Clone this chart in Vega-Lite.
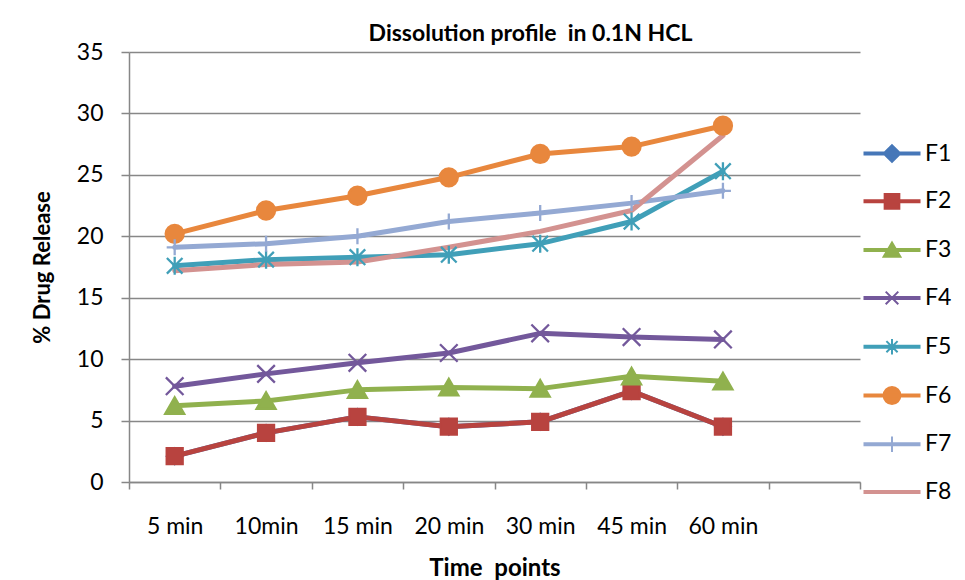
{
  "$schema": "https://vega.github.io/schema/vega-lite/v6.json",
  "width": 731,
  "height": 430,
  "autosize": {"type": "none"},
  "padding": {"left": 129, "top": 52, "right": 105, "bottom": 98},
  "background": "white",
  "config": {"view": {"stroke": null}, "font": "Lato"},
  "title": {
    "text": "Dissolution profile\u00a0 in 0.1N HCL",
    "font": "Lato",
    "fontSize": 23,
    "fontWeight": "bold",
    "color": "black",
    "anchor": "middle",
    "offset": -5,
    "dx": 36
  },
  "data": {
    "values": [
      {"t": "5 min", "s": "F1", "v": 2.1}, {"t": "10min", "s": "F1", "v": 4.0}, {"t": "15 min", "s": "F1", "v": 5.3}, {"t": "20 min", "s": "F1", "v": 4.5}, {"t": "30 min", "s": "F1", "v": 4.9}, {"t": "45 min", "s": "F1", "v": 7.4}, {"t": "60 min", "s": "F1", "v": 4.5},
      {"t": "5 min", "s": "F2", "v": 2.1}, {"t": "10min", "s": "F2", "v": 4.0}, {"t": "15 min", "s": "F2", "v": 5.3}, {"t": "20 min", "s": "F2", "v": 4.5}, {"t": "30 min", "s": "F2", "v": 4.9}, {"t": "45 min", "s": "F2", "v": 7.4}, {"t": "60 min", "s": "F2", "v": 4.5},
      {"t": "5 min", "s": "F3", "v": 6.2}, {"t": "10min", "s": "F3", "v": 6.6}, {"t": "15 min", "s": "F3", "v": 7.5}, {"t": "20 min", "s": "F3", "v": 7.7}, {"t": "30 min", "s": "F3", "v": 7.6}, {"t": "45 min", "s": "F3", "v": 8.6}, {"t": "60 min", "s": "F3", "v": 8.2},
      {"t": "5 min", "s": "F4", "v": 7.8}, {"t": "10min", "s": "F4", "v": 8.8}, {"t": "15 min", "s": "F4", "v": 9.7}, {"t": "20 min", "s": "F4", "v": 10.5}, {"t": "30 min", "s": "F4", "v": 12.1}, {"t": "45 min", "s": "F4", "v": 11.8}, {"t": "60 min", "s": "F4", "v": 11.6},
      {"t": "5 min", "s": "F5", "v": 17.6}, {"t": "10min", "s": "F5", "v": 18.1}, {"t": "15 min", "s": "F5", "v": 18.3}, {"t": "20 min", "s": "F5", "v": 18.5}, {"t": "30 min", "s": "F5", "v": 19.4}, {"t": "45 min", "s": "F5", "v": 21.2}, {"t": "60 min", "s": "F5", "v": 25.3},
      {"t": "5 min", "s": "F6", "v": 20.2}, {"t": "10min", "s": "F6", "v": 22.1}, {"t": "15 min", "s": "F6", "v": 23.3}, {"t": "20 min", "s": "F6", "v": 24.8}, {"t": "30 min", "s": "F6", "v": 26.7}, {"t": "45 min", "s": "F6", "v": 27.3}, {"t": "60 min", "s": "F6", "v": 29.0},
      {"t": "5 min", "s": "F7", "v": 19.1}, {"t": "10min", "s": "F7", "v": 19.4}, {"t": "15 min", "s": "F7", "v": 20.0}, {"t": "20 min", "s": "F7", "v": 21.2}, {"t": "30 min", "s": "F7", "v": 21.9}, {"t": "45 min", "s": "F7", "v": 22.7}, {"t": "60 min", "s": "F7", "v": 23.7},
      {"t": "5 min", "s": "F8", "v": 17.2}, {"t": "10min", "s": "F8", "v": 17.7}, {"t": "15 min", "s": "F8", "v": 17.9}, {"t": "20 min", "s": "F8", "v": 19.1}, {"t": "30 min", "s": "F8", "v": 20.4}, {"t": "45 min", "s": "F8", "v": 22.1}, {"t": "60 min", "s": "F8", "v": 28.2}
    ]
  },
  "encoding": {
    "x": {
      "field": "t",
      "type": "ordinal",
      "bandPosition": 0.5,
      "scale": {
        "type": "band",
        "domain": ["5 min", "10min", "15 min", "20 min", "30 min", "45 min", "60 min", " "],
        "paddingInner": 0,
        "paddingOuter": 0
      },
      "axis": {
        "title": "Time\u00a0 points",
        "tickBand": "extent",
        "labelAngle": 0,
        "grid": false,
        "domainColor": "#878787",
        "domainWidth": 1.5,
        "tickColor": "#878787",
        "tickWidth": 1.5,
        "tickSize": 7,
        "labelFont": "Lato",
        "labelFontSize": 23,
        "labelColor": "black",
        "labelPadding": 26,
        "titleFont": "Lato",
        "titleFontSize": 24,
        "titleFontWeight": "bold",
        "titleColor": "black",
        "titlePadding": 18
      }
    },
    "y": {
      "field": "v",
      "type": "quantitative",
      "scale": {"domain": [0, 35]},
      "axis": {
        "title": "% Drug Release",
        "values": [0, 5, 10, 15, 20, 25, 30, 35],
        "grid": true,
        "gridColor": "#878787",
        "gridWidth": 1.5,
        "domainColor": "#878787",
        "domainWidth": 1.5,
        "tickColor": "#878787",
        "tickWidth": 1.5,
        "tickSize": 8,
        "labelFont": "Lato",
        "labelFontSize": 23,
        "labelColor": "black",
        "labelPadding": 18,
        "titleFont": "Lato",
        "titleFontSize": 22,
        "titleFontWeight": "bold",
        "titleColor": "black",
        "titlePadding": 22
      }
    }
  },
  "resolve": {"scale": {"shape": "independent", "color": "independent", "stroke": "independent"}},
  "layer": [
    {
      "mark": {"type": "line", "strokeWidth": 5, "strokeJoin": "round", "strokeCap": "round"},
      "encoding": {
        "color": {
          "field": "s",
          "type": "nominal",
          "legend": null,
          "scale": {
            "domain": ["F1", "F2", "F3", "F4", "F5", "F6", "F7", "F8"],
            "range": ["#4677B8", "#B8433F", "#90B14E", "#73589B", "#409FB8", "#E8873D", "#94A9D3", "#D39290"]
          }
        }
      }
    },
    {
      "transform": [{"filter": "false"}],
      "mark": {"type": "point", "filled": true, "opacity": 1, "strokeWidth": 2},
      "encoding": {
        "color": {
          "field": "s",
          "type": "nominal",
          "scale": {
            "domain": ["F1", "F2", "F3", "F4", "F5", "F6", "F7", "F8"],
            "range": ["#4677B8", "#B8433F", "#90B14E", "#73589B", "#409FB8", "#E8873D", "#94A9D3", "#D39290"]
          },
          "legend": {
            "orient": "none",
            "legendX": 751.5,
            "legendY": 90,
            "title": null,
            "padding": 0,
            "labelFont": "Lato",
            "labelFontSize": 23,
            "labelColor": "black",
            "labelOffset": 21.5,
            "rowPadding": 23.8,
            "symbolSize": 196,
            "symbolStrokeWidth": 2,
            "symbolOpacity": 1
          }
        },
        "shape": {
          "field": "s",
          "type": "nominal",
          "scale": {
            "domain": ["F1", "F2", "F3", "F4", "F5", "F6", "F7", "F8"],
            "range": [
              "M-3.93,-0.14H3.93V0.14H-3.93ZM0,-1.2L1.2,0L0,1.2L-1.2,0Z",
              "M-3.93,-0.14H3.93V0.14H-3.93ZM-1.05,-1.05H1.05V1.05H-1.05Z",
              "M-3.93,-0.14H3.93V0.14H-3.93ZM0,-1.1L1.2,0.95H-1.2Z",
              "M-3.93,-0.14H3.93V0.14H-3.93ZM-0.9,-0.9L0.9,0.9M-0.9,0.9L0.9,-0.9",
              "M-3.93,-0.14H3.93V0.14H-3.93ZM-0.8,-0.8L0.8,0.8M-0.8,0.8L0.8,-0.8M0,-1.1V1.1",
              "M-3.93,-0.14H3.93V0.14H-3.93ZM-1.2,0A1.2,1.2,0,1,1,1.2,0A1.2,1.2,0,1,1,-1.2,0Z",
              "M-3.93,-0.14H3.93V0.14H-3.93ZM0,-1.1V1.1",
              "M-3.93,-0.14H3.93V0.14H-3.93Z"
            ]
          },
          "legend": {
            "orient": "none",
            "legendX": 751.5,
            "legendY": 90,
            "title": null,
            "padding": 0,
            "labelFont": "Lato",
            "labelFontSize": 23,
            "labelColor": "black",
            "labelOffset": 21.5,
            "rowPadding": 23.8,
            "symbolSize": 196,
            "symbolStrokeWidth": 2,
            "symbolOpacity": 1
          }
        },
        "stroke": {
          "field": "s",
          "type": "nominal",
          "legend": null,
          "scale": {
            "domain": ["F1", "F2", "F3", "F4", "F5", "F6", "F7", "F8"],
            "range": ["#4677B8", "#B8433F", "#90B14E", "#73589B", "#409FB8", "#E8873D", "#94A9D3", "#D39290"]
          }
        }
      }
    },
    {
      "mark": {"type": "point", "filled": true, "opacity": 1, "size": 400, "strokeWidth": 2.3},
      "encoding": {
        "color": {
          "field": "s",
          "type": "nominal",
          "legend": null,
          "scale": {
            "domain": ["F1", "F2", "F3", "F4", "F5", "F6", "F7", "F8"],
            "range": ["#4677B8", "#B8433F", "#90B14E", "#73589B", "#409FB8", "#E8873D", "#94A9D3", "#D39290"]
          }
        },
        "shape": {
          "field": "s",
          "type": "nominal",
          "legend": null,
          "scale": {
            "domain": ["F1", "F2", "F3", "F4", "F5", "F6", "F7", "F8"],
            "range": [
              "M0,-0.78L0.78,0L0,0.78L-0.78,0Z",
              "M-0.8,-0.8H0.8V0.8H-0.8Z",
              "M0,-0.85L0.95,0.8H-0.95Z",
              "M-0.88,-0.88L0.88,0.88M-0.88,0.88L0.88,-0.88",
              "M-0.78,-0.78L0.78,0.78M-0.78,0.78L0.78,-0.78M0,-0.9V0.9",
              "M-0.9,0A0.9,0.9,0,1,1,0.9,0A0.9,0.9,0,1,1,-0.9,0Z",
              "M-0.8,0H0.8M0,-0.8V0.8",
              "M0,0"
            ]
          }
        },
        "stroke": {
          "field": "s",
          "type": "nominal",
          "legend": null,
          "scale": {
            "domain": ["F1", "F2", "F3", "F4", "F5", "F6", "F7", "F8"],
            "range": ["#4677B8", "#B8433F", "#90B14E", "#73589B", "#409FB8", "#E8873D", "#94A9D3", "#D39290"]
          }
        }
      }
    }
  ]
}
